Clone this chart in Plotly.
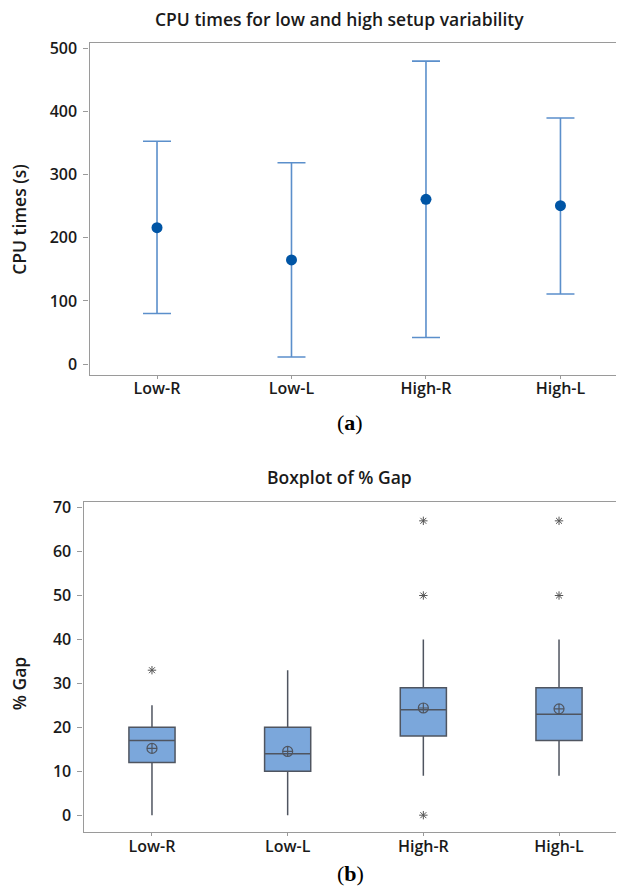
import plotly.graph_objects as go

categories = ["Low-R", "Low-L", "High-R", "High-L"]

# Panel (a): CPU times interval plot
cpu_mean = [216, 165, 261, 251]
cpu_upper = [353, 319, 480, 390]
cpu_lower = [80, 11, 42, 111]

# Panel (b): Boxplot of % Gap
gap_q1 = [12, 10, 18, 17]
gap_median = [17, 14, 24, 23]
gap_q3 = [20, 20, 29, 29]
gap_lowerfence = [0, 0, 9, 9]
gap_upperfence = [25, 33, 40, 40]
gap_mean = [15.2, 14.5, 24.4, 24.2]
outlier_x = ["Low-R", "High-R", "High-R", "High-R", "High-L", "High-L"]
outlier_y = [33, 67, 50, 0, 67, 50]

FONT = "Open Sans"
OFFX, OFFY = 8, 11           # page offset of the figure
W, H = 624 - 2 * OFFX, 889 - OFFY


def px(X):
    return (X - OFFX) / W


def py(Y):
    return 1 - (Y - OFFY) / H


fig = go.Figure()

# Panel (a)
fig.add_trace(go.Scatter(
    x=categories, y=cpu_mean, mode="markers",
    marker=dict(color="#0055A5", size=11),
    error_y=dict(type="data", symmetric=False,
                 array=[u - m for u, m in zip(cpu_upper, cpu_mean)],
                 arrayminus=[m - l for m, l in zip(cpu_mean, cpu_lower)],
                 color="#5B8FCB", thickness=1.6, width=14),
    xaxis="x", yaxis="y", showlegend=False))

# Panel (b)
fig.add_trace(go.Box(
    x=categories, q1=gap_q1, median=gap_median, q3=gap_q3,
    lowerfence=gap_lowerfence, upperfence=gap_upperfence,
    fillcolor="#7BA7DB", line=dict(color="#4F5560", width=1.5),
    whiskerwidth=0, width=0.34, boxpoints=False,
    xaxis="x2", yaxis="y2", showlegend=False))
fig.add_trace(go.Scatter(
    x=categories, y=gap_mean, mode="markers",
    marker=dict(symbol="circle-cross-open", size=10,
                color="#4F5560", line=dict(width=1.2)),
    xaxis="x2", yaxis="y2", showlegend=False))
fig.add_trace(go.Scatter(
    x=outlier_x, y=outlier_y, mode="markers",
    marker=dict(symbol="asterisk-open", size=7,
                color="#555555", line=dict(width=1.0, color="#555555")),
    xaxis="x2", yaxis="y2", showlegend=False))

TXT = "#1a1a1a"
tickfont = dict(family=FONT, size=16, color=TXT, weight=600)
axis_common = dict(showline=True, linecolor="#9a9a9a", linewidth=1.3,
                   ticks="outside", tickcolor="#9a9a9a",
                   showgrid=False, zeroline=False, tickfont=tickfont)
title_font = dict(family=FONT, size=17.5, color=TXT, weight=600)


def ann(text, X, Y, font, angle=0):
    return dict(text=text, x=px(X), y=py(Y), xref="paper", yref="paper",
                showarrow=False, xanchor="center", yanchor="middle",
                textangle=angle, font=font)


fig.update_layout(
    width=W, height=H,
    margin=dict(l=0, r=0, t=0, b=0),
    paper_bgcolor="white", plot_bgcolor="white",
    xaxis=dict(domain=[px(89.5), 1], range=[-0.502, 3.413], anchor="y",
               mirror=True, ticklen=3, ticklabelstandoff=-4, **axis_common),
    yaxis=dict(domain=[py(375), py(40.7)], range=[-17.3, 509.5],
               anchor="x", tickvals=[0, 100, 200, 300, 400, 500],
               ticklen=5, ticklabelstandoff=3, **axis_common),
    xaxis2=dict(domain=[px(83.6), 1], range=[-0.504, 3.42], anchor="y2",
                mirror=True, ticklen=3, ticklabelstandoff=-4, **axis_common),
    yaxis2=dict(domain=[py(835), py(502.3)], range=[-3.9, 71.4],
                anchor="x2", tickvals=[0, 10, 20, 30, 40, 50, 60, 70],
                ticklen=5, ticklabelstandoff=3, **axis_common),
    annotations=[
        ann("CPU times for low and high setup variability", 339, 17, title_font),
        ann("Boxplot of % Gap", 339, 478, title_font),
        ann("CPU times (s)", 19, 219, title_font, -90),
        ann("% Gap", 19, 685, title_font, -90),
        ann("(<b>a</b>)", 350, 423,
            dict(family="Liberation Serif", size=22, color="#000000")),
        ann("(<b>b</b>)", 350, 876,
            dict(family="Liberation Serif", size=22, color="#000000")),
    ],
)

fig.write_html("out.html")
